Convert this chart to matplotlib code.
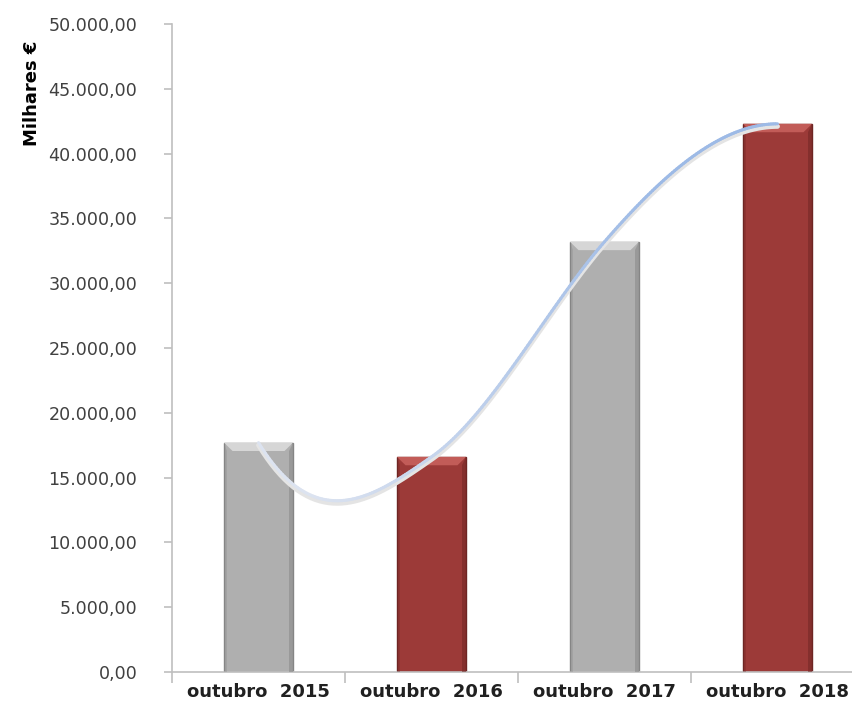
import matplotlib
matplotlib.use("Agg")
import matplotlib.pyplot as plt
import numpy as np
from matplotlib.patches import Polygon
from matplotlib.collections import LineCollection
from matplotlib.colors import to_rgb

categories = ['outubro  2015', 'outubro  2016', 'outubro  2017', 'outubro  2018']
values = [17700, 16600, 33200, 42300]
bar_colors = ['#AFAFAF', '#9C3A38', '#AFAFAF', '#9C3A38']
light_colors = ['#D6D6D6', '#C25C58', '#D6D6D6', '#C25C58']
dark_colors = ['#858585', '#6E2523', '#858585', '#6E2523']
y_ticks = np.arange(0, 50001, 5000)


def fmt(v):
    s = f"{v:,.2f}"
    return s.replace(',', 'X').replace('.', ',').replace('X', '.')


def smooth(xs, ys, n=80):
    # hermite spline through the bar tops, shaped like the hand-drawn trend curve
    xs = np.asarray(xs, float)
    ys = np.asarray(ys, float)
    k = len(ys)
    m = np.zeros(k)
    for i in range(1, k - 1):
        m[i] = 0.6 * (ys[i + 1] - ys[i - 1])
    m[0] = 3 * (ys[1] - ys[0]) - 2 * m[1]
    m[-1] = 0.0  # curve flattens out on the last bar
    px, py = [], []
    for i in range(k - 1):
        t = np.linspace(0, 1, n)
        h00 = 2 * t**3 - 3 * t**2 + 1
        h10 = t**3 - 2 * t**2 + t
        h01 = -2 * t**3 + 3 * t**2
        h11 = t**3 - t**2
        px.append(xs[i] + t * (xs[i + 1] - xs[i]))
        py.append(h00 * ys[i] + h10 * m[i] + h01 * ys[i + 1] + h11 * m[i + 1])
    return np.concatenate(px), np.concatenate(py)


fig = plt.figure(figsize=(8.52, 7.19), dpi=100)
ax = fig.add_axes([0.2019, 0.0654, 0.8122, 0.9012])

x = np.arange(len(categories))
w = 0.4
ax.bar(x, values, width=w, color=bar_colors, edgecolor=dark_colors, linewidth=1.0, zorder=2)

# bevel effect on the bars
bev_y = 650
bev_x = 0.05
for xi, v, lc, dc in zip(x, values, light_colors, dark_colors):
    l, r = xi - w / 2, xi + w / 2
    ax.add_patch(Polygon([[l, v], [r, v], [r - bev_x, v - bev_y], [l + bev_x, v - bev_y]],
                         closed=True, facecolor=lc, edgecolor='none', zorder=3))
    ax.add_patch(Polygon([[r, v], [r, 0], [r - 0.025, 0], [r - 0.025, v - bev_y]],
                         closed=True, facecolor=dc, edgecolor='none', alpha=0.5, zorder=3))
    ax.add_patch(Polygon([[l, v], [l, 0], [l + 0.02, 0], [l + 0.02, v - bev_y]],
                         closed=True, facecolor=dc, edgecolor='none', alpha=0.3, zorder=3))

# trend curve: pale at the left, bluer to the right
sx, sy = smooth(x, values)
pts = np.column_stack([sx, sy]).reshape(-1, 1, 2)
segs = np.concatenate([pts[:-1], pts[1:]], axis=1)
c0, c1 = np.array(to_rgb('#DCE3F0')), np.array(to_rgb('#9DBAE6'))
frac = np.clip((sx[:-1] - 0.3) / 2.0, 0, 1)[:, None]
cols = c0 * (1 - frac) + c1 * frac
ax.plot(sx, sy - 200, color='#E4E4E4', linewidth=3.5, zorder=4, solid_capstyle='round')
ax.add_collection(LineCollection(segs, colors=cols, linewidths=2.2, zorder=5, capstyle='round'))

ax.set_xlim(-0.5, 3.5)
ax.set_ylim(0, 50000)
ax.set_yticks(y_ticks)
ax.set_yticklabels([fmt(v) for v in y_ticks], fontsize=12.6, color='#404040', family='DejaVu Sans')
ax.set_xticks(np.arange(-0.5, 3.6, 1.0))
ax.set_xticklabels([])
ax.set_xticks(x, minor=True)
ax.set_xticklabels(categories, minor=True, fontsize=13, fontweight='bold', color='#202020')
ax.tick_params(axis='x', which='minor', length=0, pad=8)
ax.tick_params(axis='x', which='major', length=8, color='#BFBFBF', width=1.2, direction='out')
ax.tick_params(axis='y', length=6, color='#BFBFBF', width=1.2, direction='out', pad=19)

for s in ['top', 'right']:
    ax.spines[s].set_visible(False)
for s in ['left', 'bottom']:
    ax.spines[s].set_color('#BFBFBF')
    ax.spines[s].set_linewidth(1.2)

fig.text(0.037, 0.87, 'Milhares €', rotation=90, fontsize=13, fontweight='bold',
         ha='center', va='center', color='#000000')

fig.savefig('out.png', dpi=100)
